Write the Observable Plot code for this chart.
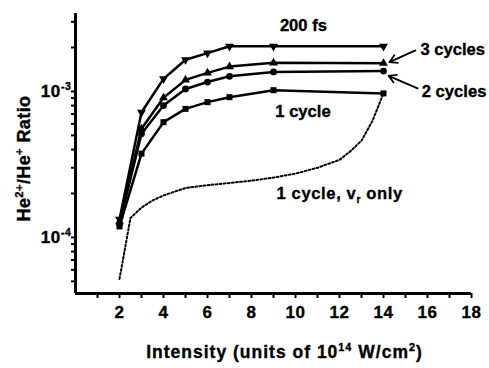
<!DOCTYPE html>
<html>
<head>
<meta charset="utf-8">
<script src="https://cdn.jsdelivr.net/npm/d3@7"></script>
<script src="https://cdn.jsdelivr.net/npm/@observablehq/plot@0.6"></script>
<style>
  body { margin: 0; background: #fff; }
  #chart svg text { stroke: black; stroke-width: 0.35px; }
</style>
</head>
<body>
<div id="chart"></div>
<script>
// Laser intensity (units of 1e14 W/cm^2) at which each ratio was computed
const intensity = [2, 3, 4, 5, 6, 7, 9, 14];

// He2+/He+ ratio for each pulse length
const fs200   = [1.33e-4, 7.2e-4, 1.22e-3, 1.65e-3, 1.83e-3, 2.04e-3, 2.04e-3, 2.04e-3];
const cycles3 = [1.28e-4, 5.55e-4, 9.05e-4, 1.20e-3, 1.34e-3, 1.48e-3, 1.57e-3, 1.56e-3];
const cycles2 = [1.24e-4, 5.13e-4, 8.0e-4, 1.04e-3, 1.16e-3, 1.27e-3, 1.36e-3, 1.38e-3];
const cycles1 = [1.19e-4, 3.75e-4, 6.16e-4, 7.6e-4, 8.45e-4, 9.14e-4, 1.02e-3, 9.7e-4];

// One cycle pulse, rescattering velocity only (dotted curve)
const vrIntensity = [2, 2.5, 3, 3.5, 4, 5, 6, 7, 8, 9, 10, 11, 12, 12.5, 13, 13.5, 14];
const vrOnly = [5.2e-5, 1.36e-4, 1.6e-4, 1.79e-4, 1.94e-4, 2.18e-4, 2.28e-4, 2.36e-4, 2.45e-4,
                2.57e-4, 2.74e-4, 3.0e-4, 3.4e-4, 3.9e-4, 4.6e-4, 6.3e-4, 9.7e-4];

// Axis ticks
const xMajor = [2, 4, 6, 8, 10, 12, 14, 16, 18];
const xMinor = [1, 3, 5, 7, 9, 11, 13, 15, 17];
const yMajor = [1e-4, 1e-3];
const yMinor = [5e-5, 6e-5, 7e-5, 8e-5, 9e-5, 2e-4, 3e-4, 4e-4, 5e-4, 6e-4, 7e-4, 8e-4, 9e-4, 2e-3, 3e-3];

const xTitle = "Intensity (units of 10^{14} W/cm^{2})";
const yTitle = "He^{2+}/He^{+} Ratio";
const vrLabel = "1 cycle, v_{r} only";

// Curve labels (data coordinates)
const centeredNotes = [
  {text: "200 fs", x: 10.36, y: 2.81e-3},
  {text: "1 cycle", x: 10.34, y: 7.3e-4}
];
const leftNotes = [
  {text: "3 cycles", x: 15.68, y: 1.94e-3},
  {text: "2 cycles", x: 15.74, y: 1.0e-3},
  {text: vrLabel, x: 9.14, y: 1.98e-4}
];
const pointers = [
  {x1: 15.45, y1: 1.91e-3, x2: 14.27, y2: 1.59e-3},
  {x1: 15.55, y1: 1.05e-3, x2: 14.23, y2: 1.28e-3}
];

const series = (values) => intensity.map((x, i) => ({x, y: values[i]}));
const vrRows = vrIntensity.map((x, i) => ({x, y: vrOnly[i]}));
const yBottom = 4.13e-5;

const lineOpts = {x: "x", y: "y", stroke: "black", strokeWidth: 2.5};
const noteOpts = {x: "x", y: "y", text: "text", fill: "black", fontSize: 16.6};

const chart = Plot.plot({
  width: 489,
  height: 368,
  marginLeft: 75,
  marginRight: 18,
  marginTop: 13,
  marginBottom: 75,
  style: {
    fontFamily: "'Liberation Sans', Arial, sans-serif",
    fontWeight: "bold",
    fontSize: "17px",
    color: "black",
    background: "white",
    overflow: "visible"
  },
  x: {domain: [0, 18]},
  y: {type: "log", domain: [yBottom, 3.42e-3]},
  marks: [
    Plot.axisX({ticks: xMajor, tickSize: 5, tickPadding: 7, strokeWidth: 2, label: null, fontSize: 17}),
    Plot.axisX({ticks: xMinor, tickSize: 5, strokeWidth: 2, label: null, tickFormat: () => ""}),
    Plot.axisY({ticks: yMajor, tickSize: 4, tickPadding: 0, strokeWidth: 2, label: null, fontSize: 17,
                tickFormat: d => `10^{${Math.round(Math.log10(d))}}`}),
    Plot.axisY({ticks: yMinor, tickSize: 4, strokeWidth: 2, label: null, tickFormat: () => ""}),
    Plot.ruleX([0], {stroke: "black", strokeWidth: 3}),
    Plot.ruleY([yBottom], {stroke: "black", strokeWidth: 3}),

    Plot.line(vrRows, {x: "x", y: "y", stroke: "black", strokeWidth: 2, strokeDasharray: "1.9,2.2"}),

    Plot.line(series(fs200), lineOpts),
    Plot.line(series(cycles3), lineOpts),
    Plot.line(series(cycles2), lineOpts),
    Plot.line(series(cycles1), lineOpts),

    Plot.dot(series(fs200), {x: "x", y: "y", symbol: "triangle", rotate: 180, r: 3.3, fill: "black"}),
    Plot.dot(series(cycles3), {x: "x", y: "y", symbol: "triangle", r: 3.3, fill: "black"}),
    Plot.dot(series(cycles2), {x: "x", y: "y", symbol: "circle", r: 3.4, fill: "black"}),
    Plot.dot(series(cycles1), {x: "x", y: "y", symbol: "square", r: 3.4, fill: "black"}),

    Plot.arrow(pointers, {x1: "x1", y1: "y1", x2: "x2", y2: "y2", stroke: "black",
                          strokeWidth: 1.8, headLength: 7}),

    Plot.text(centeredNotes, {...noteOpts, textAnchor: "middle"}),
    Plot.text(leftNotes, {...noteOpts, textAnchor: "start"}),

    Plot.text([xTitle], {frameAnchor: "bottom", textAnchor: "middle", lineAnchor: "middle",
                         dx: 11, dy: 59, fill: "black", fontSize: 17.5}),
    Plot.text([yTitle], {frameAnchor: "left", textAnchor: "middle", lineAnchor: "middle",
                         dx: -51, dy: 5, rotate: -90, fill: "black", fontSize: 18})
  ]
});

document.getElementById("chart").appendChild(chart);

// Turn ^{...} and _{...} into raised / lowered tspans
function richText(el) {
  const src = el.textContent;
  if (!/[\^_]\{/.test(src)) return;
  const fs = parseFloat(getComputedStyle(el).fontSize);
  el.textContent = "";
  let offset = 0;
  for (const part of src.split(/([\^_]\{[^}]*\})/)) {
    if (!part) continue;
    const ts = document.createElementNS("http://www.w3.org/2000/svg", "tspan");
    let shift = 0, content = part, small = false;
    if (part.startsWith("^{")) { shift = -0.42 * fs; content = part.slice(2, -1); small = true; }
    else if (part.startsWith("_{")) { shift = 0.24 * fs; content = part.slice(2, -1); small = true; }
    if (shift - offset !== 0) ts.setAttribute("dy", shift - offset);
    offset = shift;
    if (small) ts.setAttribute("font-size", (0.62 * fs).toFixed(2));
    ts.textContent = content;
    el.appendChild(ts);
  }
}

// Wider tracking for the axis titles, tick numbers and the long curve label
const tracking = new Map([[xTitle, "1px"], [yTitle, "0.4px"], [vrLabel, "0.6px"]]);
chart.querySelectorAll("text").forEach(el => {
  const src = el.textContent;
  if (tracking.has(src)) el.style.letterSpacing = tracking.get(src);
  else if (/^[0-9]+$/.test(src) || src.startsWith("10^{")) el.style.letterSpacing = "0.6px";
  richText(el);
});
</script>
</body>
</html>
